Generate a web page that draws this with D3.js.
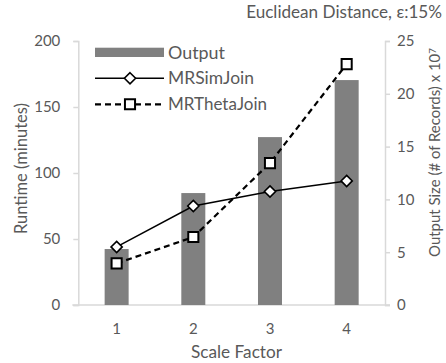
<!DOCTYPE html>
<html><head><meta charset="utf-8">
<script src="https://cdn.jsdelivr.net/npm/d3@7"></script>
<style>
body{margin:0;background:#fff;}
text{font-family:Lato,"Open Sans",sans-serif;fill:#595959;}
</style></head>
<body><svg id="c" width="446" height="363"></svg>
<script>
const categories = ["1","2","3","4"];
const outputValues = [5.3, 10.6, 15.9, 21.3];
const simJoinValues = [44, 75, 86, 94];
const thetaJoinValues = [31.5, 51.5, 107.5, 182.5];
const leftTicks = [0, 50, 100, 150, 200];
const rightTicks = [0, 5, 10, 15, 20, 25];

const svg = d3.select("#c");
const L = 78.3, R = 385, T = 41, B = 305;
const x = d3.scaleBand().domain(categories).range([L, R]).padding(0);
const yL = d3.scaleLinear().domain([0, 200]).range([B, T]);
const yR = d3.scaleLinear().domain([0, 25]).range([B, T]);
const axisCol = "#d9d9d9";

// scale a text's font so its length matches a target
function fit(sel, target, base) {
  const node = sel.node();
  const len = node.getComputedTextLength();
  const s = base * target / len;
  sel.style("font-size", s + "px");
  return sel;
}

// left axis
const gL = svg.append("g").attr("transform", `translate(${L},0)`)
  .call(d3.axisLeft(yL).tickValues(leftTicks).tickSize(5).tickPadding(13));
gL.select(".domain").attr("stroke", axisCol).attr("stroke-width", 1.5);
gL.selectAll(".tick line").attr("stroke", axisCol).attr("stroke-width", 1.5);
gL.selectAll(".tick text").style("font-size", "15px").attr("fill", "#595959").style("font-family","Lato");

// right axis
const gR = svg.append("g").attr("transform", `translate(${R},0)`)
  .call(d3.axisRight(yR).tickValues(rightTicks).tickSize(5).tickPadding(7));
gR.select(".domain").attr("stroke", axisCol).attr("stroke-width", 1.5);
gR.selectAll(".tick line").attr("stroke", axisCol).attr("stroke-width", 1.5);
gR.selectAll(".tick text").style("font-size", "15px").attr("fill", "#595959").style("font-family","Lato");

// bottom axis
const gB = svg.append("g").attr("transform", `translate(0,${B})`)
  .call(d3.axisBottom(x).tickSize(0).tickPadding(18));
gB.select(".domain").attr("d", `M72.3,0H390`).attr("stroke", axisCol).attr("stroke-width", 1.5);
gB.selectAll(".tick text").style("font-size", "15px").attr("fill", "#595959").style("font-family","Lato");

// bars
const bw = 24;
svg.append("g").selectAll("rect").data(categories).join("rect")
  .attr("x", d => x(d) + x.bandwidth()/2 - bw/2)
  .attr("width", bw)
  .attr("y", (d,i) => yR(outputValues[i]))
  .attr("height", (d,i) => B - yR(outputValues[i]))
  .attr("fill", "#808080");

const cx = d => x(d) + x.bandwidth()/2;
const diamond = d3.symbol().type(d3.symbolDiamond2).size(80);
const square = d3.symbol().type(d3.symbolSquare2).size(130);

const lineGen = d3.line().x((d,i) => cx(categories[i])).y(d => yL(d));
svg.append("path").attr("d", lineGen(simJoinValues)).attr("fill","none").attr("stroke","#000").attr("stroke-width",1.5);
svg.append("path").attr("d", lineGen(thetaJoinValues)).attr("fill","none").attr("stroke","#000").attr("stroke-width",2.2).attr("stroke-dasharray","6,4");

svg.append("g").selectAll("path").data(simJoinValues).join("path")
  .attr("transform", (d,i) => `translate(${cx(categories[i])},${yL(d)})`)
  .attr("d", diamond).attr("fill","#fff").attr("stroke","#000").attr("stroke-width",1.6);
svg.append("g").selectAll("path").data(thetaJoinValues).join("path")
  .attr("transform", (d,i) => `translate(${cx(categories[i])},${yL(d)})`)
  .attr("d", square).attr("fill","#fff").attr("stroke","#000").attr("stroke-width",2);

// legend
const lg = svg.append("g");
lg.append("rect").attr("x",95).attr("y",47.7).attr("width",69).attr("height",9.3).attr("fill","#808080");
fit(lg.append("text").attr("x",168).attr("y",52.5).attr("dy","0.35em").style("font-size","15px").text("Output"), 57, 15);
lg.append("line").attr("x1",95).attr("x2",164).attr("y1",78.3).attr("y2",78.3).attr("stroke","#000").attr("stroke-width",1.5);
lg.append("path").attr("transform","translate(130,78.3)").attr("d",diamond).attr("fill","#fff").attr("stroke","#000").attr("stroke-width",1.6);
fit(lg.append("text").attr("x",168).attr("y",78.3).attr("dy","0.35em").style("font-size","15px").text("MRSimJoin"), 86, 15);
lg.append("line").attr("x1",95).attr("x2",164).attr("y1",104.3).attr("y2",104.3).attr("stroke","#000").attr("stroke-width",2.2).attr("stroke-dasharray","6,4");
lg.append("path").attr("transform","translate(130,104.3)").attr("d",square).attr("fill","#fff").attr("stroke","#000").attr("stroke-width",2);
fit(lg.append("text").attr("x",168).attr("y",104.3).attr("dy","0.35em").style("font-size","15px").text("MRThetaJoin"), 99, 15);

// titles
fit(svg.append("text").attr("x",442).attr("y",12.5).attr("dy","0.35em").attr("text-anchor","end").style("font-size","15px").text("Euclidean Distance, ε:15%"), 196, 15);
fit(svg.append("text").attr("transform","translate(21,168.5) rotate(-90)").attr("text-anchor","middle").attr("dy","0.35em").style("font-size","15px").text("Runtime (minutes)"), 131, 15);
const rt = svg.append("text").attr("transform","translate(435,152.5) rotate(-90)").attr("text-anchor","middle").attr("dy","0.35em").style("font-size","15px");
rt.append("tspan").text("Output Size (# of Records) x 10");
rt.append("tspan").attr("dy","-0.45em").style("font-size","0.65em").text("7");
fit(rt, 209, 15);
fit(svg.append("text").attr("x",236.5).attr("y",352).attr("dy","0.35em").attr("text-anchor","middle").style("font-size","15px").text("Scale Factor"), 91, 15);
</script></body></html>
